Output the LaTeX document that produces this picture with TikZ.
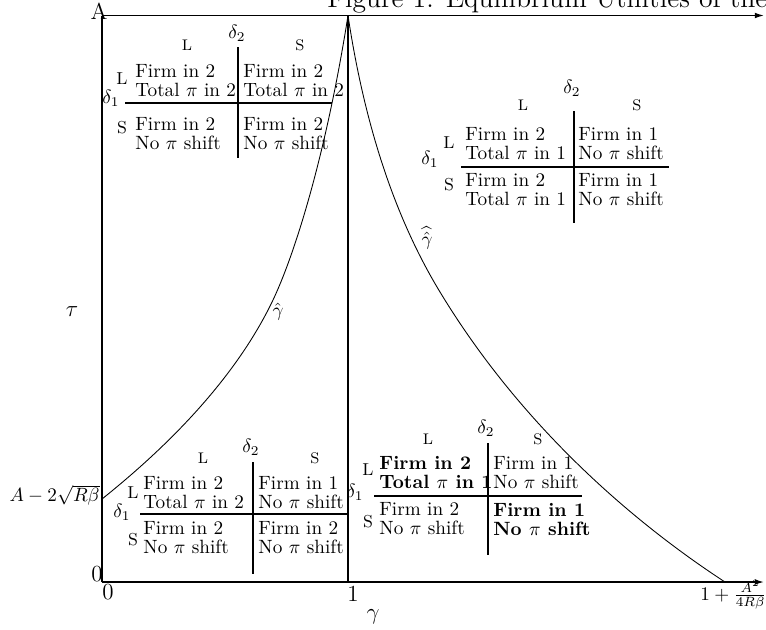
\documentclass[tikz,border=0pt]{standalone}
\usepackage{amsmath}
\usetikzlibrary{arrows.meta}
\begin{document}
\begin{tikzpicture}[x=0.5208pt,y=-0.5208pt,
  axis/.style={line width=0.7pt},
  curve/.style={line width=0.45pt},
  rule/.style={line width=0.6pt},
  cell/.style={anchor=west, align=left, inner sep=0pt, font=\fontsize{10}{9.9}\selectfont},
  bcell/.style={cell, font=\fontsize{10}{9.9}\selectfont\bfseries},
  hdr/.style={inner sep=0pt, font=\footnotesize},
  rowl/.style={inner sep=0pt, font=\small},
  dlt/.style={inner sep=0pt},
  lbl/.style={inner sep=0pt, font=\large}]
\clip (0,0) rectangle (766,629);
% coordinates
\coordinate (O) at (102,582);
\coordinate (Ytop) at (102,15.5);
\coordinate (Xend) at (764,582);
\coordinate (Tend) at (764,15.5);
\coordinate (One) at (348,582);
\coordinate (OneTop) at (348,15.5);
\coordinate (Gs) at (102,499);
\coordinate (Gm) at (273,300);
\coordinate (Hm) at (440,292);
\coordinate (He) at (725,582);
% title
\node[anchor=base west, inner sep=0pt, font=\Large] (title) at (327,7.5) {Figure 1: Equilibrium Utilities of the};
% axes
\draw[axis] (O) -- (Ytop);
\draw[axis,-{Latex[length=4.8pt,width=3pt]}] (O) -- (Xend);
\draw[axis,-{Latex[length=4.8pt,width=3pt]}] (Ytop) -- (Tend);
\draw[axis] (One) -- (OneTop);
% curves
\draw[curve] (Gs) .. controls (159,453.4) and (233,384) .. (Gm)
                 .. controls (293,258) and (325,161) .. (OneTop);
\draw[curve] (OneTop) .. controls (368,148) and (405,234.3) .. (Hm)
                 .. controls (520,424) and (630,520) .. (He);
% axis labels
\node[lbl] (lA) at (99,11) {A};
\node[lbl] (l0y) at (97,574) {0};
\node[lbl] (l0x) at (108,592) {0};
\node[lbl] (l1) at (353,594) {1};
\node[lbl] (lgam) at (373,617) {$\gamma$};
\node[lbl] (ltau) at (72,312) {$\tau$};
\node[anchor=east, inner sep=0pt] (lAR) at (100,495) {$A-2\sqrt{R\beta}$};
\node[anchor=west, inner sep=0pt] (lend) at (700,595) {$1+\frac{A^2}{4R\beta}$};
\node[inner sep=0pt] (lgh) at (278,312) {$\hat{\gamma}$};
\node[inner sep=0pt] (lghh) at (427,238) {$\widehat{\hat{\gamma}}$};
% ---------- top-left table
\begin{scope}[shift={(238,103)}]
\node[dlt] (tld2) at (-1,-70) {$\delta_2$};
\node[hdr] (tlhL) at (-51,-58) {L};
\node[hdr] (tlhS) at (62,-58) {S};
\draw[rule] (0,-56) -- (0,55);
\draw[rule] (-113,0) -- (94,0);
\node[rowl] (tlrL) at (-116,-24) {L};
\node[dlt] (tld1) at (-127,-5) {$\delta_1$};
\node[rowl] (tlrS) at (-116,25) {S};
\node[cell] (tla) at (-103,-22.5) {Firm in 2\\Total $\pi$ in 2};
\node[cell] (tlb) at (5,-22.5) {Firm in 2\\Total $\pi$ in 2};
\node[cell] (tlc) at (-103,30.5) {Firm in 2\\No $\pi$ shift};
\node[cell] (tld) at (5,30.5) {Firm in 2\\No $\pi$ shift};
\end{scope}
% ---------- top-right table
\begin{scope}[shift={(574,167)}]
\node[dlt] (trd2) at (-2,-79) {$\delta_2$};
\node[hdr] (trhL) at (-51,-62) {L};
\node[hdr] (trhS) at (63,-62) {S};
\draw[rule] (0,-56) -- (0,56);
\draw[rule] (-113,0) -- (95,0);
\node[rowl] (trrL) at (-125,-24) {L};
\node[dlt] (trd1) at (-144,-8) {$\delta_1$};
\node[rowl] (trrS) at (-125,18) {S};
\node[cell] (tra) at (-109,-23) {Firm in 2\\Total $\pi$ in 1};
\node[cell] (trb) at (4,-23) {Firm in 1\\No $\pi$ shift};
\node[cell] (trc) at (-109,22.5) {Firm in 2\\Total $\pi$ in 1};
\node[cell] (trd) at (4,22.5) {Firm in 1\\No $\pi$ shift};
\end{scope}
% ---------- bottom-left table
\begin{scope}[shift={(253,514)}]
\node[dlt] (bld2) at (-2,-67) {$\delta_2$};
\node[hdr] (blhL) at (-50,-56) {L};
\node[hdr] (blhS) at (62,-56) {S};
\draw[rule] (0,-52) -- (0,60);
\draw[rule] (-113,0) -- (94,0);
\node[rowl] (blrL) at (-120,-21) {L};
\node[dlt] (bld1) at (-131,-2) {$\delta_1$};
\node[rowl] (blrS) at (-120,26) {S};
\node[cell] (bla) at (-110,-21.5) {Firm in 2\\Total $\pi$ in 2};
\node[cell] (blb) at (5,-21.5) {Firm in 1\\No $\pi$ shift};
\node[cell] (blc) at (-110,23.5) {Firm in 2\\No $\pi$ shift};
\node[cell] (bld) at (5,23.5) {Firm in 2\\No $\pi$ shift};
\end{scope}
% ---------- bottom-right table
\begin{scope}[shift={(488,496)}]
\node[dlt] (brd2) at (-2,-68) {$\delta_2$};
\node[hdr] (brhL) at (-60,-57) {L};
\node[hdr] (brhS) at (50,-57) {S};
\draw[rule] (0,-53) -- (0,59);
\draw[rule] (-114,0) -- (94,0);
\node[rowl] (brrL) at (-120,-26) {L};
\node[dlt] (brd1) at (-133,-4) {$\delta_1$};
\node[rowl] (brrS) at (-120,26) {S};
\node[bcell] (bra) at (-109,-23.5) {Firm in 2\\Total $\pi$ in 1};
\node[cell] (brb) at (5,-23.5) {Firm in 1\\No $\pi$ shift};
\node[cell] (brc) at (-109,23) {Firm in 2\\No $\pi$ shift};
\node[bcell] (brd) at (5,23) {Firm in 1\\No $\pi$ shift};
\end{scope}
\end{tikzpicture}
\end{document}
